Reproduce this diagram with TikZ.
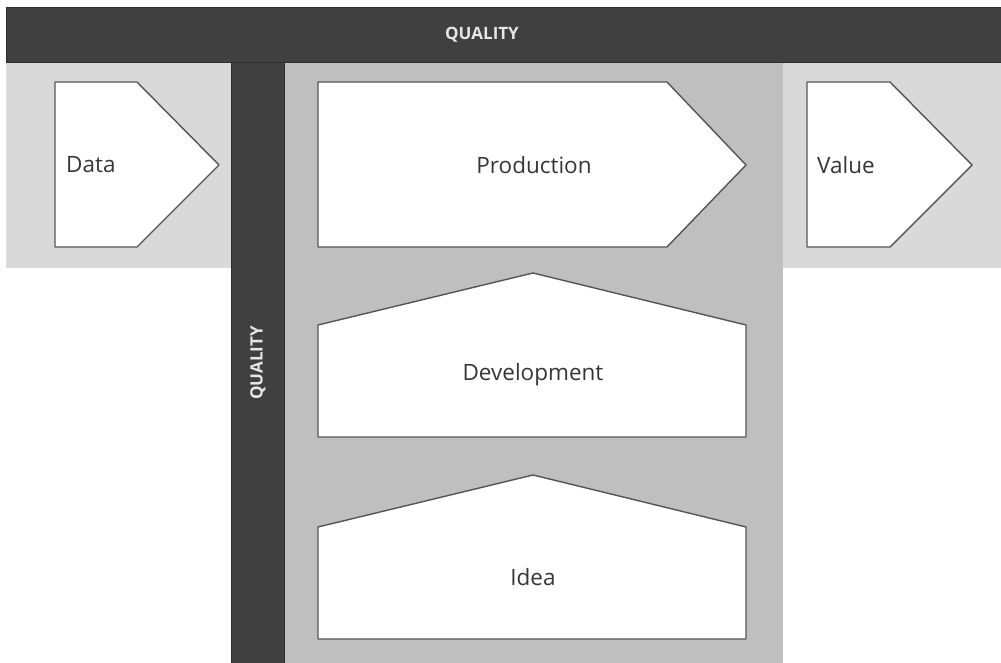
\documentclass[tikz,border=0pt]{standalone}
\usepackage{fontspec}
\setmainfont{Open Sans}
\definecolor{darkbar}{HTML}{404040}
\definecolor{darkedge}{HTML}{2E2E2E}
\definecolor{lightband}{HTML}{D9D9D9}
\definecolor{midband}{HTML}{BFBFBF}
\definecolor{shapeedge}{HTML}{555555}
\definecolor{labeltext}{HTML}{363636}
\definecolor{bartext}{HTML}{E6E6E6}
\tikzset{
  barfill/.style={fill=darkbar, draw=darkedge, line width=0.8pt},
  stageshape/.style={fill=white, draw=shapeedge, line width=1.4pt, line join=round},
  stagelabel/.style={font=\fontsize{22.5}{25}\selectfont, text=labeltext, inner sep=0pt},
  barlabel/.style={font=\bfseries\fontsize{17}{19}\selectfont, text=bartext, inner sep=0pt}
}
\begin{document}
\begin{tikzpicture}[x=1pt,y=-1pt]
\useasboundingbox (0,0) rectangle (1001,663);
% background bands
\fill[lightband] (6,62) rectangle (1001,268);
\fill[midband] (284,62) rectangle (783,663);
% dark bars
\draw[barfill] (6,7) rectangle (1001,62);
\draw[barfill] (231,62) rectangle (284,663);
\node[barlabel] (qtop) at (482,35) {QUALITY};
\node[barlabel, rotate=90] (qside) at (258,363) {QUALITY};
% Data
\draw[stageshape] (55,82) -- (137,82) -- (219,165) -- (137,247) -- (55,247) -- cycle;
\node[stagelabel, anchor=west] (data) at (66,165) {Data};
% Production
\draw[stageshape] (318,82) -- (667,82) -- (746,165) -- (667,247) -- (318,247) -- cycle;
\node[stagelabel] (production) at (534,165) {Production};
% Value
\draw[stageshape] (807,82) -- (890,82) -- (972,165) -- (890,247) -- (807,247) -- cycle;
\node[stagelabel, anchor=west] (value) at (817,165) {Value};
% Development
\draw[stageshape] (318,325) -- (533,273) -- (746,325) -- (746,437) -- (318,437) -- cycle;
\node[stagelabel] (development) at (533,375) {Development};
% Idea
\draw[stageshape] (318,527) -- (533,475) -- (746,527) -- (746,639) -- (318,639) -- cycle;
\node[stagelabel] (idea) at (533,577) {Idea};
\end{tikzpicture}
\end{document}
